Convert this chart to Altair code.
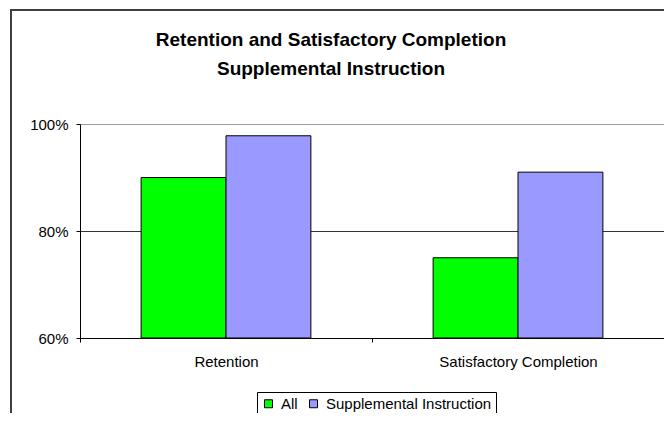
import altair as alt
import pandas as pd

categories = ["Retention", "Satisfactory Completion"]
series = ["All", "Supplemental Instruction"]
all_values = [0.90, 0.75]
si_values = [0.978, 0.91]
colors = ["#00FF00", "#9999FF"]
y_ticks = [0.6, 0.8, 1.0]
title_lines = ["Retention and Satisfactory Completion", "Supplemental Instruction"]

rows = []
for i, c in enumerate(categories):
    rows.append({"Category": c, "Group": series[0], "Value": all_values[i]})
    rows.append({"Category": c, "Group": series[1], "Value": si_values[i]})
df = pd.DataFrame(rows)

FONT = "Liberation Sans"

bars = alt.Chart(df).mark_bar(stroke="black", strokeWidth=1).encode(
    x=alt.X(
        "Category:N",
        sort=categories,
        scale=alt.Scale(paddingInner=0, paddingOuter=0),
        axis=alt.Axis(
            title=None, labelAngle=0, tickBand="extent", tickSize=4, labelPadding=12,
            domainColor="black", tickColor="black", labelFontSize=15, labelColor="black",
            labelFont=FONT, grid=False,
        ),
    ),
    xOffset=alt.XOffset("Group:N", sort=series,
                        scale=alt.Scale(paddingInner=0, paddingOuter=0.72)),
    y=alt.Y(
        "Value:Q",
        scale=alt.Scale(domain=[0.6, 1.0], zero=False, nice=False),
        axis=alt.Axis(
            title=None, values=y_ticks, format=".0%", tickSize=4, labelPadding=8,
            domainColor="black", tickColor="black", labelFontSize=15, labelColor="black",
            labelFont=FONT, grid=True,
            gridColor=alt.condition("datum.value == 1", alt.value("#a0a0a0"), alt.value("#333333")),
        ),
    ),
    y2=alt.datum(0.6),
    color=alt.Color(
        "Group:N",
        sort=series,
        scale=alt.Scale(domain=series, range=colors),
        legend=alt.Legend(
            title=None, orient="none", legendX=177, legendY=268, direction="horizontal",
            strokeColor="black", fillColor="white", padding=4, symbolType="square",
            symbolSize=64, symbolStrokeColor="black", symbolStrokeWidth=1, symbolOpacity=1,
            labelFontSize=15, labelFont=FONT, labelColor="black", columnPadding=8, labelOffset=5,
            labelLimit=400,
        ),
    ),
)

border = alt.Chart(pd.DataFrame({"a": [0]})).mark_rect(
    fillOpacity=0, stroke="#404040", strokeWidth=2
).encode(x=alt.value(-69), x2=alt.value(620), y=alt.value(-114), y2=alt.value(340))

chart = alt.layer(border, bars).properties(
    width=584,
    height=214,
    padding={"left": 72, "top": 116, "right": 0, "bottom": 75},
    autosize=alt.AutoSizeParams(type="none"),
    title=alt.TitleParams(
        text=title_lines, font=FONT, fontSize=19, fontWeight="bold", color="black",
        anchor="middle", frame="group", dx=-41, offset=36, dy=106, lineHeight=29,
    ),
).configure_view(stroke="#a0a0a0", strokeWidth=1).configure(background="white")

chart.save("out.html", embed_options={"renderer": "svg", "actions": False})
